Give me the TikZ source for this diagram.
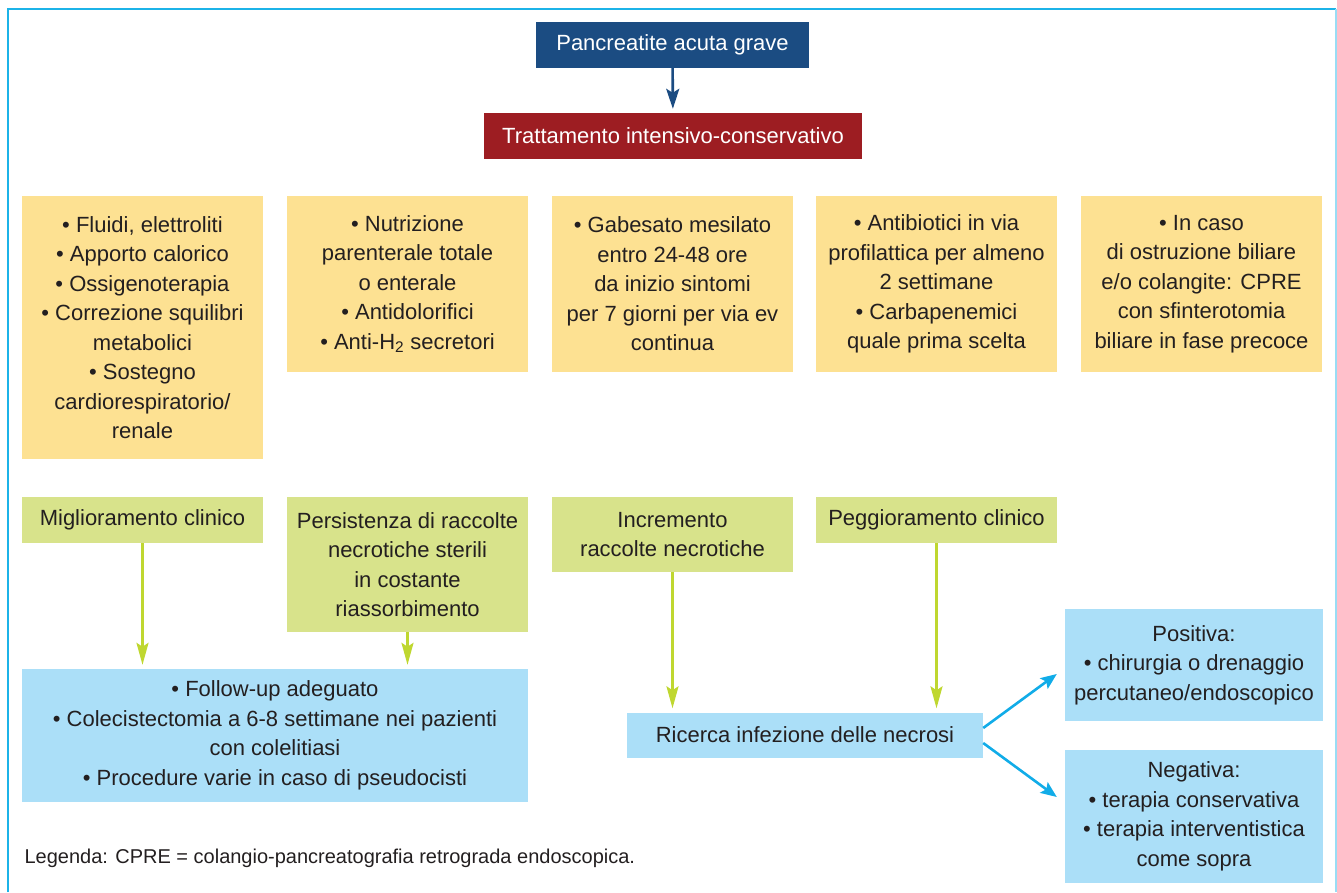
\documentclass[tikz,border=0pt]{standalone}
\usepackage{fontspec}
\setmainfont{Liberation Sans}
\usetikzlibrary{arrows.meta}
\definecolor{pcblue}{HTML}{1B4C82}
\definecolor{pcred}{HTML}{9D1D22}
\definecolor{pcyellow}{HTML}{FDE192}
\definecolor{pcgreen}{HTML}{D8E38B}
\definecolor{pclight}{HTML}{ABDFF8}
\definecolor{pclime}{HTML}{BFD730}
\definecolor{pccyan}{HTML}{11ACE8}
\definecolor{pcframe}{HTML}{1CB3E8}
\definecolor{pctext}{HTML}{231F20}

\begin{document}
\begin{tikzpicture}[
  x=1pt, y=-1pt,
  every node/.style={font=\fontsize{22}{29.5}\selectfont, text=pctext},
  headbox/.style={rectangle, fill=pcblue, text=white, minimum width=273pt, minimum height=46pt, inner sep=0pt},
  treatbox/.style={rectangle, fill=pcred, text=white, minimum width=378pt, minimum height=46pt, inner sep=0pt},
  therbox/.style={rectangle, fill=pcyellow, minimum width=241pt, minimum height=176pt, inner sep=0pt, align=center},
  evobox/.style={rectangle, fill=pcgreen, minimum width=241pt, inner sep=0pt, align=center},
  outbox/.style={rectangle, fill=pclight, inner sep=0pt, align=center},
  limearr/.style={-{Stealth[length=22pt, width=12pt, inset=4pt]}, pclime, line width=2.6pt, shorten >=4pt},
  cyanarr/.style={-{Stealth[length=16pt, width=13pt, inset=3pt]}, pccyan, line width=2.6pt},
]
\useasboundingbox (0,0) rectangle (1337,892);
\draw[pcframe, line width=2pt] (8,892) -- (8,9) -- (1336,9);
\draw[pcframe!45, line width=2pt] (1336,9) -- (1336,892);

\node[headbox] (acute) at (672.5,44.5) {Pancreatite acuta grave};
\node[treatbox] (treat) at (673,136) {Trattamento intensivo-conservativo};
\draw[-{Stealth[length=20pt, width=13pt, inset=4pt]}, pcblue, line width=2.6pt, shorten >=4pt] (acute) -- (treat);

\node[therbox, minimum height=263pt] (t1) at (142.5,327.5) {\textbullet\ Fluidi, elettroliti\\\textbullet\ Apporto calorico\\\textbullet\ Ossigenoterapia\\\textbullet\ Correzione squilibri\\metabolici\\\textbullet\ Sostegno\\cardiorespiratorio/\\renale};
\node[therbox] (t2) at (407.5,284) {\textbullet\ Nutrizione\\parenterale totale\\o enterale\\\textbullet\ Antidolorifici\\\textbullet\ Anti-H\textsubscript{2} secretori};
\node[therbox] (t3) at (672.5,284) {\textbullet\ Gabesato mesilato\\entro 24-48 ore\\da inizio sintomi\\per 7 giorni per via ev\\continua};
\node[therbox] (t4) at (936.5,284) {\textbullet\ Antibiotici in via\\profilattica per almeno\\2 settimane\\\textbullet\ Carbapenemici\\quale prima scelta};
\node[therbox] (t5) at (1201.5,284) {\textbullet\ In caso\\di ostruzione biliare\\e/o colangite: CPRE\\con sfinterotomia\\biliare in fase precoce};

\node[evobox, minimum height=46pt] (better) at (142.5,520) {Miglioramento clinico};
\node[evobox, minimum height=135pt] (persist) at (407.5,564.5) {Persistenza di raccolte\\necrotiche sterili\\in costante\\riassorbimento};
\node[evobox, minimum height=75pt] (incr) at (672.5,534.5) {Incremento\\raccolte necrotiche};
\node[evobox, minimum height=46pt] (worse) at (936.5,520) {Peggioramento clinico};

\node[outbox, minimum width=506pt, minimum height=133pt] (follow) at (275,735.5) {\textbullet\ Follow-up adeguato\\\textbullet\ Colecistectomia a 6-8 settimane nei pazienti\\con colelitiasi\\\textbullet\ Procedure varie in caso di pseudocisti};
\node[outbox, minimum width=356pt, minimum height=45pt] (search) at (805,735) {Ricerca infezione delle necrosi};
\node[outbox, minimum width=258pt, minimum height=112pt] (pos) at (1194,665) {Positiva:\\\textbullet\ chirurgia o drenaggio\\percutaneo/endoscopico};
\node[outbox, minimum width=258pt, minimum height=133pt] (neg) at (1194,816.5) {Negativa:\\\textbullet\ terapia conservativa\\\textbullet\ terapia interventistica\\come sopra};

\draw[limearr] (better) -- (better |- follow.north);
\draw[limearr] (persist) -- (persist |- follow.north);
\draw[limearr] (incr) -- (incr |- search.north);
\draw[limearr] (worse) -- (worse |- search.north);
\draw[cyanarr] ([yshift=7pt]search.east) -- ([shift={(-8,9)}]pos.west);
\draw[cyanarr] ([yshift=-8pt]search.east) -- ([shift={(-8,-19.5)}]neg.west);

\node[anchor=west, font=\fontsize{20}{24}\selectfont] (legend) at (21,858) {Legenda: CPRE = colangio-pancreatografia retrograda endoscopica.};
\end{tikzpicture}
\end{document}
